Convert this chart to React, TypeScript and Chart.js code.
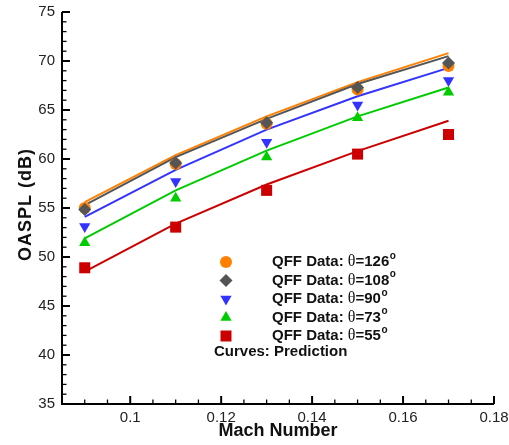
import React, { useEffect, useRef } from 'react';
import { Chart, registerables } from 'chart.js';

Chart.register(...registerables);

// ---- data ----
const machPoints = [0.09, 0.11, 0.13, 0.15, 0.17];

const qff126 = [55.0, 59.5, 63.6, 67.1, 69.5];
const qff108 = [54.85, 59.6, 63.7, 67.3, 69.8];
const qff90 = [53.1, 57.7, 61.7, 65.5, 68.0];
const qff73 = [51.45, 56.0, 60.2, 64.2, 66.8];
const qff55 = [48.9, 53.05, 56.8, 60.5, 62.5];

const pred126 = [55.6, 60.4, 64.35, 67.85, 70.8];
const pred108 = [55.3, 60.2, 64.1, 67.65, 70.5];
const pred90 = [54.1, 58.9, 63.0, 66.4, 69.3];
const pred73 = [51.9, 56.8, 60.85, 64.35, 67.3];
const pred55 = [48.5, 53.4, 57.4, 60.8, 63.9];

const xTickValues = [0.1, 0.12, 0.14, 0.16, 0.18];
const xTickLabels = ['0.1', '0.12', '0.14', '0.16', '0.18'];
const yTickValues = [35, 40, 45, 50, 55, 60, 65, 70, 75];
const yTickLabels = ['35', '40', '45', '50', '55', '60', '65', '70', '75'];

const legendAngles = ['126', '108', '90', '73', '55'];
const legendNote = 'Curves: Prediction';
const xTitle = 'Mach Number';
const yTitle = 'OASPL (dB)';

const ORANGE = '#ff8000';
const GRAY = '#555555';
const BLUE = '#3333ff';
const GREEN = '#00cc00';
const RED = '#cc0000';

const toXY = (ys: number[]) => ys.map((y, i) => ({ x: machPoints[i], y }));

function drawMarker(ctx: CanvasRenderingContext2D, kind: string, x: number, y: number, color: string) {
  ctx.save();
  ctx.fillStyle = color;
  ctx.beginPath();
  if (kind === 'circle') {
    ctx.arc(x, y, 6, 0, Math.PI * 2);
  } else if (kind === 'diamond') {
    const r = 6.5;
    ctx.moveTo(x - r, y);
    ctx.lineTo(x, y - r);
    ctx.lineTo(x + r, y);
    ctx.lineTo(x, y + r);
    ctx.closePath();
  } else if (kind === 'down') {
    const r = 6.5;
    ctx.moveTo(x, y + r);
    ctx.lineTo(x - r * Math.sin(Math.PI / 3), y - r / 2);
    ctx.lineTo(x + r * Math.sin(Math.PI / 3), y - r / 2);
    ctx.closePath();
  } else if (kind === 'up') {
    const r = 6.5;
    ctx.moveTo(x, y - r);
    ctx.lineTo(x - r * Math.sin(Math.PI / 3), y + r / 2);
    ctx.lineTo(x + r * Math.sin(Math.PI / 3), y + r / 2);
    ctx.closePath();
  } else {
    ctx.rect(x - 5.5, y - 5.5, 11, 11);
  }
  ctx.fill();
  ctx.restore();
}

const framePlugin = {
  id: 'framePlugin',
  afterDraw(chart: any) {
    const ctx: CanvasRenderingContext2D = chart.ctx;
    const xs = chart.scales.x;
    const ys = chart.scales.y;
    const { left, right, top, bottom } = chart.chartArea;
    ctx.save();
    ctx.strokeStyle = '#000';
    ctx.lineCap = 'butt';
    // axis lines
    ctx.lineWidth = 2;
    ctx.beginPath();
    ctx.moveTo(left, top);
    ctx.lineTo(left, bottom);
    ctx.lineTo(right, bottom);
    ctx.stroke();
    // x ticks
    for (let i = 17; i <= 36; i++) {
      const v = i * 0.005;
      const px = xs.getPixelForValue(v);
      const major = i % 4 === 0;
      ctx.lineWidth = major ? 2 : 1.3;
      ctx.beginPath();
      ctx.moveTo(px, bottom);
      ctx.lineTo(px, bottom - (major ? 8 : 4.5));
      ctx.stroke();
    }
    // y ticks
    for (let v = 35; v <= 75; v++) {
      const py = ys.getPixelForValue(v);
      const major = v % 5 === 0;
      ctx.lineWidth = major ? 2 : 1.3;
      ctx.beginPath();
      ctx.moveTo(left, py);
      ctx.lineTo(left + (major ? 8 : 4.5), py);
      ctx.stroke();
    }
    // axis titles
    ctx.fillStyle = '#111';
    ctx.font = 'bold 18px "Liberation Sans", Arial, sans-serif';
    ctx.textAlign = 'center';
    ctx.textBaseline = 'middle';
    ctx.fillText(xTitle, (left + right) / 2, 431);
    ctx.save();
    ctx.translate(26, 205);
    ctx.rotate(-Math.PI / 2);
    (ctx as any).letterSpacing = '1px';
    ctx.fillText(yTitle, 0.5, 0);
    ctx.restore();

    // legend
    const kinds = ['circle', 'diamond', 'down', 'up', 'square'];
    const colors = [ORANGE, GRAY, BLUE, GREEN, RED];
    const mx = 226;
    const y0 = 262;
    const dy = 18.5;
    ctx.textAlign = 'left';
    ctx.textBaseline = 'middle';
    for (let i = 0; i < kinds.length; i++) {
      const y = y0 + i * dy;
      drawMarker(ctx, kinds[i], mx, y, colors[i]);
      let tx = 272;
      ctx.fillStyle = '#111';
      ctx.font = 'bold 15px "Liberation Sans", Arial, sans-serif';
      const a = 'QFF Data: ';
      ctx.fillText(a, tx, y);
      tx += ctx.measureText(a).width;
      ctx.font = '16px "Liberation Serif", "DejaVu Serif", serif';
      ctx.fillText('\u03B8', tx, y);
      tx += ctx.measureText('\u03B8').width;
      ctx.font = 'bold 15px "Liberation Sans", Arial, sans-serif';
      const b = '=' + legendAngles[i];
      ctx.fillText(b, tx, y);
      tx += ctx.measureText(b).width + 0.5;
      ctx.font = 'bold 10px "Liberation Sans", Arial, sans-serif';
      ctx.fillText('o', tx, y - 6);
    }
    ctx.font = 'bold 15px "Liberation Sans", Arial, sans-serif';
    ctx.fillStyle = '#111';
    ctx.fillText(legendNote, 214, 352);
    ctx.restore();
  },
};

export default function App() {
  const ref = useRef<HTMLCanvasElement | null>(null);
  useEffect(() => {
    document.body.style.margin = '0';
    if (!ref.current) return;
    const lineDs = (label: string, ys: number[], color: string) => ({
      label,
      data: toXY(ys),
      showLine: true,
      borderColor: color,
      backgroundColor: color,
      borderWidth: 2,
      pointRadius: 0,
      tension: 0,
    });
    const ptDs = (label: string, ys: number[], color: string, style: string, radius: number, rotation = 0) => ({
      label,
      data: toXY(ys),
      showLine: false,
      pointStyle: style,
      pointRadius: radius,
      pointRotation: rotation,
      pointBackgroundColor: color,
      pointBorderWidth: 0,
      borderColor: color,
      backgroundColor: color,
    });
    const chart = new Chart(ref.current, {
      type: 'scatter',
      data: {
        datasets: [
          ptDs('QFF 55', qff55, RED, 'rect', 7.8),
          ptDs('QFF 73', qff73, GREEN, 'triangle', 6.5),
          ptDs('QFF 90', qff90, BLUE, 'triangle', 6.5, 180),
          ptDs('QFF 108', qff108, GRAY, 'rectRot', 6.5),
          ptDs('QFF 126', qff126, ORANGE, 'circle', 6),
          lineDs('Pred 55', pred55, RED),
          lineDs('Pred 73', pred73, GREEN),
          lineDs('Pred 90', pred90, BLUE),
          lineDs('Pred 108', pred108, GRAY),
          lineDs('Pred 126', pred126, ORANGE),
        ] as any,
      },
      options: {
        animation: false,
        responsive: false,
        layout: { padding: { top: 12, right: 15, bottom: 0, left: 0 } },
        plugins: { legend: { display: false }, tooltip: { enabled: false } },
        scales: {
          x: {
            type: 'linear',
            min: 0.085,
            max: 0.18,
            afterBuildTicks: (s: any) => {
              s.ticks = xTickValues.map((v) => ({ value: v }));
            },
            afterFit: (s: any) => {
              s.height = 41;
              s.paddingLeft = 0;
              s.paddingRight = 0;
            },
            grid: { display: false, drawTicks: false },
            border: { display: false },
            ticks: {
              autoSkip: false,
              maxRotation: 0,
              padding: 5,
              color: '#222',
              font: { family: '"Liberation Sans", Arial, sans-serif', size: 15 },
              callback: (v: any) => {
                const i = xTickValues.findIndex((t) => Math.abs(t - Number(v)) < 1e-9);
                return i >= 0 ? xTickLabels[i] : '';
              },
            },
          },
          y: {
            type: 'linear',
            min: 35,
            max: 75,
            afterBuildTicks: (s: any) => {
              s.ticks = yTickValues.map((v) => ({ value: v }));
            },
            afterFit: (s: any) => {
              s.width = 62;
              s.paddingTop = 0;
              s.paddingBottom = 0;
            },
            grid: { display: false, drawTicks: false },
            border: { display: false },
            ticks: {
              autoSkip: false,
              padding: 7,
              color: '#222',
              font: { family: '"Liberation Sans", Arial, sans-serif', size: 15 },
              callback: (v: any) => {
                const i = yTickValues.indexOf(Number(v));
                return i >= 0 ? yTickLabels[i] : '';
              },
            },
          },
        },
      } as any,
      plugins: [framePlugin],
    });
    return () => chart.destroy();
  }, []);
  return (
    <div style={{ width: 509, height: 445 }}>
      <canvas ref={ref} width={509} height={445} style={{ display: 'block' }} />
    </div>
  );
}
